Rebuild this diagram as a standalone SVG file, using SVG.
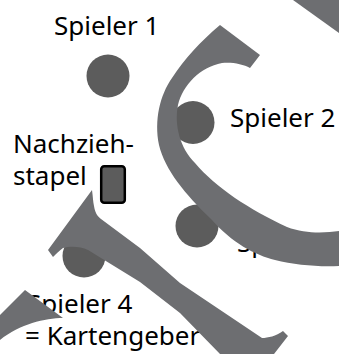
<svg xmlns="http://www.w3.org/2000/svg" width="339" height="354" viewBox="0 0 339 354">
  <style>
    .label { font-family: "Noto Sans", "Open Sans", sans-serif; font-size: 26px; fill: #000; }
    .seat { fill: #5c5c5c; }
    .band { fill: #6d6e71; }
  </style>
  <rect width="339" height="354" fill="#fff"/>

  <g id="spieler1">
    <circle class="seat" cx="108" cy="76" r="21.5"/>
    <text class="label" x="54" y="35">Spieler 1</text>
  </g>
  <g id="spieler2">
    <circle class="seat" cx="193" cy="122.5" r="21.5"/>
    <text class="label" x="230" y="127">Spieler 2</text>
  </g>
  <g id="spieler3">
    <circle class="seat" cx="197" cy="226" r="21.5"/>
    <text class="label" x="237" y="252">Spieler 3</text>
  </g>
  <g id="spieler4">
    <circle class="seat" cx="84" cy="256" r="21.5"/>
    <text class="label" x="27" y="313">Spieler 4</text>
    <text class="label" x="25" y="345">= Kartengeber</text>
  </g>
  <g id="nachziehstapel">
    <text class="label" x="13" y="153">Nachzieh-</text>
    <text class="label" x="13" y="185">stapel</text>
    <rect x="101.2" y="166.2" width="23.6" height="36.6" rx="3" fill="#5c5c5c" stroke="#000" stroke-width="2.5"/>
  </g>

  <g id="connectors">
    <!-- curved band around the right-hand seats -->
    <path class="band" d="M220,25 L260,55 L250,68 C243,64 232,62 222,63 C200,67 183,85 178,105 C174,125 180,148 195,163 C215,187 250,210 287,227 C305,234 325,233 339,231 L339,266 C318,267 295,265 275,260 C255,255 232,243 211,219 C185,194 165,170 159,145 C154,120 160,95 172,78 C185,58 200,42 220,25 Z"/>
    <!-- diagonal band with flared ends -->
    <path class="band" d="M92,190 C93,197 93,202 94,206 C95,212 97,216 101,219 L140,248 L180,283 L262,338 C268,338 276,336 283,331 L288,336 L274,354 L220,354 L180,313 L140,282 L88,250 C80,246 70,246 63,248 C59,251 56,254 53,257 L48,250 Z"/>
    <!-- lower left fragment -->
    <path class="band" d="M25,290 L63,318 C45,318 20,324 0,340 L0,315 Z"/>
    <!-- upper right fragment -->
    <path class="band" d="M293,0 L339,0 L339,33 Z"/>
  </g>
</svg>
